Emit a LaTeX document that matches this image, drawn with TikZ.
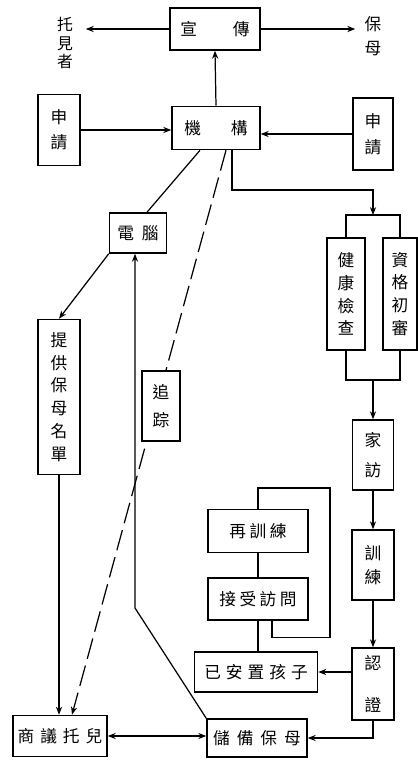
\documentclass[tikz,border=0pt]{standalone}
\usepackage{fontspec}
\newfontfamily\cjk{Noto Sans CJK TC}
\usetikzlibrary{arrows.meta,calc}

\tikzset{
  bx/.style 2 args={draw, line width=0.9pt, fill=white, inner sep=0pt, align=center,
    minimum width=#1*0.02cm, minimum height=#2*0.02cm},
  lbl/.style={align=center, inner sep=0pt},
  arr/.style={-{Stealth[length=4.5pt,width=3.5pt]}},
  every node/.style={font=\cjk\fontsize{9.5}{13}\selectfont}
}

\begin{document}
\begin{tikzpicture}[x=0.02cm,y=-0.02cm,line width=0.7pt]
\useasboundingbox (0,0) rectangle (418,761);

% top
\node[bx={90}{42}] (xuan) at (215,29) {宣\hspace{0.72cm}傳};
\node[lbl,inner xsep=7pt,font=\cjk\fontsize{9}{10.5}\selectfont] (tuo) at (65,43) {托\\見\\者};
\node[lbl,inner xsep=5pt] (bao) at (373,36) {保\\[1pt]母};

\node[bx={42}{71}] (sqL) at (59,130) {申\\[1pt]請};
\node[bx={88}{43}] (jg) at (216,128) {機\hspace{0.6cm}構};
\node[bx={40}{72}] (sqR) at (373,134) {申\\[2pt]請};

% left column
\node[bx={57}{40}] (dn) at (138,233) {電\hspace{0.16cm}腦};
\node[bx={42}{155}] (tg) at (59,397) {提\\供\\保\\母\\名\\單};
\node[bx={94}{41}] (sy) at (60,736) {商\hspace{0.12cm}議\hspace{0.12cm}托\hspace{0.12cm}兒};
\node[bx={100}{38}] (cb) at (257,738) {儲\hspace{0.14cm}備\hspace{0.14cm}保\hspace{0.14cm}母};

% right column
\node[bx={38}{112}] (jk) at (346,294) {健\\康\\檢\\查};
\node[bx={34}{112}] (zg) at (400,294) {資\\格\\初\\審};
\node[bx={41}{70}] (jf) at (373,455) {家\\[4pt]訪};
\node[bx={42}{70}] (xl) at (373,565) {訓\\[1pt]練};
\node[bx={42}{72}] (rz) at (373,684) {認\\[11pt]證};

% middle
\node[bx={100}{43}] (zxl) at (258,531) {再\hspace{0.07cm}訓\hspace{0.07cm}練};
\node[bx={100}{42}] (js) at (258,599) {接\hspace{0.07cm}受\hspace{0.07cm}訪\hspace{0.07cm}問};
\node[bx={123}{40}] (yaz) at (256,672) {已\hspace{0.1cm}安\hspace{0.1cm}置\hspace{0.1cm}孩\hspace{0.1cm}子};

\coordinate (topbr) at (373,215);
\coordinate (botbr) at (373,380);
\coordinate (loopc) at (330,488);
\coordinate (bend) at (135,608);

% connectors
\draw[arr] (xuan.west) -- (tuo.east |- xuan.west);
\draw[arr] (xuan.east) -- (bao.west |- xuan.east);
\draw[arr] (jg.north) -- (xuan.south);
\draw[arr] (sqL.east) -- (sqL.east -| jg.west);
\draw[arr] (sqR.west) -- (sqR.west -| jg.east);

\draw ($(jg.south)+(-16,0)$) -- ($(dn.north)+(9,0)$);
\draw[arr] (dn.south west) -- (tg.north);
\draw[arr] (tg.south) -- (tg.south |- sy.north);
\draw[arr,dashed,dash pattern=on 12pt off 4pt] ($(jg.south)+(10,0)$) -- ($(sy.north)+(12,0)$);
\node[bx={38}{70}] (zz) at (161,406) {追\\[3pt]踪};
\draw[arr] (cb.north west) -- (bend) -- (bend |- dn.south);
\draw[{Stealth[length=4.5pt,width=3.5pt]}-{Stealth[length=4.5pt,width=3.5pt]}] (sy.east) -- (sy.east -| cb.west);

\draw[arr] ($(jg.south)+(16,0)$) |- ($(topbr)+(0,-25)$) -- (topbr);
\draw (jk.north) |- (topbr) -| (zg.north);
\draw (jk.south) |- (botbr) -| (zg.south);
\draw[arr] (botbr) -- (jf.north);
\draw[arr] (jf.south) -- (xl.north);
\draw[arr] (xl.south) -- (rz.north);
\draw[arr] (yaz.east -| rz.west) -- (yaz.east);
\draw[arr] (rz.south) |- (cb.east);

\draw (zxl.south) -- (js.north);
\draw (js.south) -- (js.south |- yaz.north);
\draw ($(js.south)+(14,0)$) -- ++(0,17) -| (loopc) -| (zxl.north);
\end{tikzpicture}
\end{document}
